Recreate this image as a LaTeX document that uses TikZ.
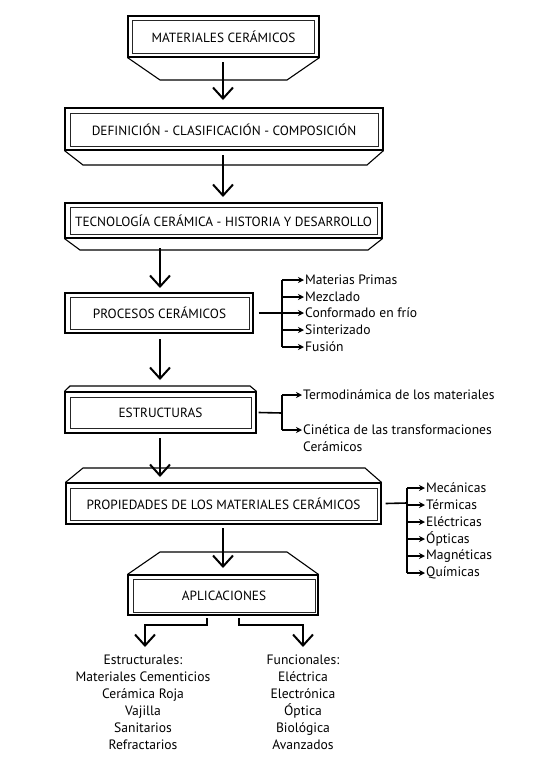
\documentclass[tikz,border=0pt]{standalone}
\usepackage{fontspec}
\setmainfont{PT Sans}
\usetikzlibrary{arrows.meta,calc}
\tikzset{
  outerbox/.style={draw=black, line width=1.1pt, inner sep=0pt},
  innerbox/.style={draw=black!85, line width=0.8pt, inner sep=0pt, font=\fontsize{13.3}{15}\selectfont},
  trap/.style={draw=black, line width=1.1pt},
  bigarrow/.style={line width=2pt, -{Straight Barb[length=11pt,width=20pt,line width=2pt]}},
  smallarrow/.style={line width=1.6pt, -{Stealth[length=6pt,width=6pt]}},
  branch/.style={line width=1.6pt},
  item/.style={anchor=west, inner sep=0pt, font=\fontsize{13.6}{17}\selectfont},
  listtxt/.style={align=center, inner sep=0pt, font=\fontsize{13.6}{17}\selectfont},
}
\begin{document}
\begin{tikzpicture}[x=1pt,y=-1pt]
\useasboundingbox (0,0) rectangle (551,761);

% Box 1
\node[outerbox, minimum width=191pt, minimum height=41pt] (o1) at (223.5,36.5) {};
\node[innerbox, minimum width=182pt, minimum height=33pt] (b1) at (223.5,36.5) {MATERIALES CERÁMICOS};
\draw[trap] (o1.south west) -- (160,80) -- (287,80) -- (o1.south east);

% Box 2
\node[outerbox, minimum width=318pt, minimum height=42pt] (o2) at (224,129) {};
\node[innerbox, minimum width=308pt, minimum height=33pt] (b2) at (224,129.5) {DEFINICIÓN - CLASIFICACIÓN - COMPOSICIÓN};
\draw[trap] (o2.south west) -- (83,165) -- (367,165) -- (o2.south east);

% Box 3
\node[outerbox, minimum width=317pt, minimum height=35pt] (o3) at (223.5,220.5) {};
\node[innerbox, minimum width=307pt, minimum height=27pt] (b3) at (223.5,220.5) {TECNOLOGÍA CERÁMICA - HISTORIA Y DESARROLLO};
\draw[trap] (o3.south west) -- (80,250) -- (368,250) -- (o3.south east);

% Box 4
\node[outerbox, minimum width=188pt, minimum height=40pt] (o4) at (159,313) {};
\node[innerbox, minimum width=179pt, minimum height=32pt] (b4) at (159.5,313) {PROCESOS CERÁMICOS};

% Box 5
\node[outerbox, minimum width=191pt, minimum height=41pt] (o5) at (160.5,412.5) {};
\node[innerbox, minimum width=181pt, minimum height=31pt] (b5) at (160.5,412.5) {ESTRUCTURAS};
\draw[trap] (o5.north west) -- (70,386) -- (250,386) -- (o5.north east);

% Box 6
\node[outerbox, minimum width=315pt, minimum height=41pt] (o6) at (223.5,503.5) {};
\node[innerbox, minimum width=307pt, minimum height=32pt] (b6) at (223.5,504) {PROPIEDADES DE LOS MATERIALES CERÁMICOS};
\draw[trap] (o6.north west) -- (83,468) -- (365,468) -- (o6.north east);

% Box 7
\node[outerbox, minimum width=190pt, minimum height=40pt] (o7) at (223,595) {};
\node[innerbox, minimum width=182pt, minimum height=33pt] (b7) at (224,595.5) {APLICACIONES};
\draw[trap] (o7.north west) -- (160,552) -- (287,552) -- (o7.north east);

% main arrows
\coordinate (a1s) at (223,62);  \coordinate (a1e) at (223,100);
\draw[bigarrow] (a1s) -- (a1e);
\coordinate (a2s) at (223,155); \coordinate (a2e) at (223,197);
\draw[bigarrow] (a2s) -- (a2e);
\coordinate (a3s) at (160,248); \coordinate (a3e) at (160,288);
\draw[bigarrow] (a3s) -- (a3e);
\coordinate (a4s) at (160,339); \coordinate (a4e) at (160,380);
\draw[bigarrow] (a4s) -- (a4e);
\coordinate (a5s) at (160,438); \coordinate (a5e) at (160,477);
\draw[bigarrow] (a5s) -- (a5e);
\coordinate (a6s) at (223,528); \coordinate (a6e) at (223,568);
\draw[bigarrow] (a6s) -- (a6e);

% Procesos list
\node[item] (p1) at (305,280) {Materias Primas};
\node[item] (p2) at (305,297) {Mezclado};
\node[item] (p3) at (305,313) {Conformado en frío};
\node[item] (p4) at (305,330) {Sinterizado};
\node[item] (p5) at (305,347) {Fusión};
\coordinate (pj) at (282,313);
\draw[branch] ($(o4.east)+(5,0)$) -- (pj);
\draw[branch] (282,280) -- (282,347);
\foreach \n in {p1,p2,p3,p4,p5} \draw[smallarrow] (282,0 |- \n.west) -- ($(\n.west)+(-1,0)$);

% Estructuras list
\node[item] (e1) at (303,395) {Termodinámica de los materiales};
\node[item, align=left] (e2) at (303,438.5) {Cinética de las transformaciones\\Cerámicos};
\coordinate (ej) at (282,413);
\draw[branch] ($(o5.east)+(2,0)$) -- (ej);
\draw[branch] (282,395) -- (282,430);
\draw[smallarrow] (282,395) -- ($(e1.west)+(-1,0)$);
\draw[smallarrow] (282,430) -- (302,430);

% Propiedades list
\node[item] (q1) at (426,488) {Mecánicas};
\node[item] (q2) at (426,505) {Térmicas};
\node[item] (q3) at (426,522) {Eléctricas};
\node[item] (q4) at (426,539) {Ópticas};
\node[item] (q5) at (426,556) {Magnéticas};
\node[item] (q6) at (426,573) {Químicas};
\coordinate (qj) at (407,503);
\draw[branch] ($(o6.east)+(4,0)$) -- (qj);
\draw[branch] (407,488) -- (407,573);
\foreach \n in {q1,q2,q3,q4,q5,q6} \draw[smallarrow] (407,0 |- \n.west) -- ($(\n.west)+(-1,0)$);

% Aplicaciones lists
\node[listtxt, anchor=north] (l1) at (143,655) {Estructurales:\\Materiales Cementicios\\Cerámica Roja\\Vajilla\\Sanitarios\\Refractarios};
\node[listtxt, anchor=north] (l2) at (303,655) {Funcionales:\\Eléctrica\\Electrónica\\Óptica\\Biológica\\Avanzados};
\draw[line width=2pt, -{Straight Barb[length=11pt,width=20pt,line width=2pt]}] (207,618) -- (207,625) -- (145,625) -- (145,647);
\draw[line width=2pt, -{Straight Barb[length=11pt,width=20pt,line width=2pt]}] (239,618) -- (239,625) -- (303,625) -- (303,647);
\end{tikzpicture}
\end{document}
